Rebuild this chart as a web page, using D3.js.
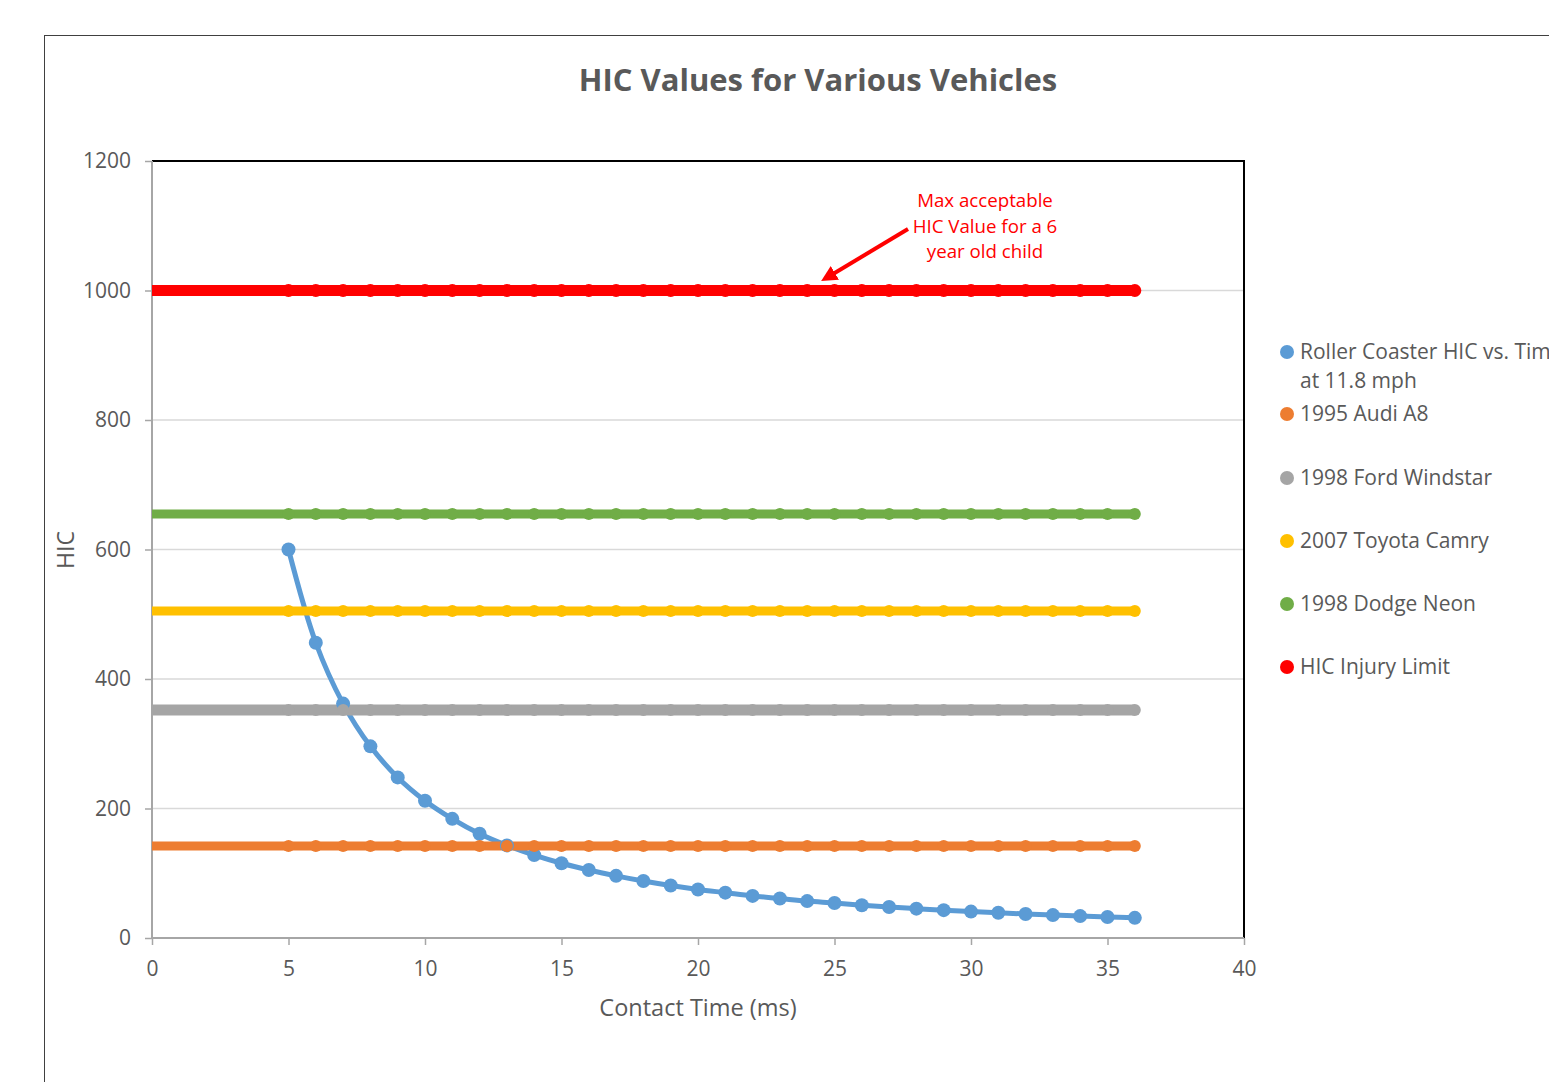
<!DOCTYPE html>
<html><head><meta charset="utf-8">
<script src="https://cdn.jsdelivr.net/npm/d3@7"></script>
<style>body{margin:0;background:#fff;overflow:hidden}svg{display:block}text{font-family:"Open Sans","Noto Sans",sans-serif;fill:#595959}</style>
</head><body><svg id="c" width="1549" height="1082"></svg>
<script>
const times = [5,6,7,8,9,10,11,12,13,14,15,16,17,18,19,20,21,22,23,24,25,26,27,28,29,30,31,32,33,34,35,36];
const rollerCoaster = [600,456,362,296,248,212,184,161,143,128,115.5,105,96,88,81,75,70,65,61,57,54,50.6,47.8,45.3,43,40.8,38.9,37.1,35.4,33.8,32.4,31.1];
const audiA8 = 142;
const fordWindstar = 352;
const toyotaCamry = 505;
const dodgeNeon = 655;
const injuryLimit = 1000;
const seriesNames = ["Roller Coaster HIC vs. Time at 11.8 mph","1995 Audi A8","1998 Ford Windstar","2007 Toyota Camry","1998 Dodge Neon","HIC Injury Limit"];
const xTicks = [0,5,10,15,20,25,30,35,40];
const yTicks = [0,200,400,600,800,1000,1200];
const annotationLines = ["Max acceptable","HIC Value for a 6","year old child"];

const svg = d3.select("#c");
svg.append("rect").attr("x",44.5).attr("y",35.5).attr("width",1600).attr("height",1100).attr("fill","none").attr("stroke","#404040").attr("stroke-width",1);

const L=152,R=1244,T=161,B=938;
const x = d3.scaleLinear().domain([0,40]).range([L,R]);
const y = d3.scaleLinear().domain([0,1200]).range([B,T]);

svg.append("g").selectAll("line").data(yTicks.filter(d=>d>0 && d<1200)).join("line")
  .attr("x1",L).attr("x2",R).attr("y1",d=>y(d)).attr("y2",d=>y(d)).attr("stroke","#d9d9d9").attr("stroke-width",1.5);
svg.append("path").attr("d",`M${L},${T}H${R}V${B}`).attr("fill","none").attr("stroke","#000").attr("stroke-width",2);

const yAxis = d3.axisLeft(y).tickValues(yTicks).tickFormat(d3.format("d")).tickSize(7).tickPadding(14);
const gy = svg.append("g").attr("transform",`translate(${L},0)`).call(yAxis);
const xAxis = d3.axisBottom(x).tickValues(xTicks).tickFormat(d3.format("d")).tickSize(7).tickPadding(16);
const gx = svg.append("g").attr("transform",`translate(0,${B})`).call(xAxis);
[gx,gy].forEach(g=>{
  g.select(".domain").attr("stroke","#a6a6a6").attr("stroke-width",2);
  g.selectAll(".tick line").attr("stroke","#a6a6a6").attr("stroke-width",1.5);
  g.selectAll(".tick text").attr("font-size",21).style("fill","#595959").attr("font-family","'Open Sans',sans-serif");
});
gx.select(".domain").attr("d",`M${L},0H${R}`);
gy.select(".domain").attr("d",`M0,${B}V${T}`);

const flat = [
  {name:seriesNames[1], v:audiA8, color:"#ed7d31", w:9, r:6},
  {name:seriesNames[2], v:fordWindstar, color:"#a5a5a5", w:11, r:6},
  {name:seriesNames[3], v:toyotaCamry, color:"#ffc000", w:9, r:6},
  {name:seriesNames[4], v:dodgeNeon, color:"#70ad47", w:9, r:6},
  {name:seriesNames[5], v:injuryLimit, color:"#ff0000", w:11, r:6.5}
];
const blue = "#5b9bd5";
const lines = svg.append("g");
const marks = svg.append("g");

lines.append("path").datum(times.map((t,i)=>[t,rollerCoaster[i]]))
  .attr("d",d3.line().x(d=>x(d[0])).y(d=>y(d[1])).curve(d3.curveCatmullRom))
  .attr("fill","none").attr("stroke",blue).attr("stroke-width",5);
marks.selectAll(".rc").data(times.map((t,i)=>[t,rollerCoaster[i]])).join("circle")
  .attr("cx",d=>x(d[0])).attr("cy",d=>y(d[1])).attr("r",7).attr("fill",blue);

flat.forEach(s=>{
  lines.append("line").attr("x1",x(0)).attr("x2",x(times[times.length-1])).attr("y1",y(s.v)).attr("y2",y(s.v))
    .attr("stroke",s.color).attr("stroke-width",s.w);
});
flat.forEach(s=>{
  marks.append("g").selectAll("circle").data(times).join("circle")
    .attr("cx",d=>x(d)).attr("cy",y(s.v)).attr("r",s.r).attr("fill",s.color);
});

svg.append("text").attr("x",818).attr("y",91).attr("text-anchor","middle").attr("font-size",31).attr("font-weight","bold").text("HIC Values for Various Vehicles");
svg.append("text").attr("x",698).attr("y",1016).attr("text-anchor","middle").attr("font-size",23.5).text("Contact Time (ms)");
svg.append("text").attr("transform","translate(74,550) rotate(-90)").attr("text-anchor","middle").attr("font-size",23).text("HIC");

const ann = svg.append("g");
annotationLines.forEach((t,i)=>{
  ann.append("text").attr("x",985).attr("y",207+i*25.5).attr("text-anchor","middle").attr("font-size",18.7).style("fill","#ff0000").text(t);
});
svg.append("defs").append("marker").attr("id","ah").attr("viewBox","0 0 10 10").attr("refX",5).attr("refY",5)
  .attr("markerWidth",4).attr("markerHeight",4).attr("orient","auto")
  .append("path").attr("d","M0,0L10,5L0,10Z").attr("fill","#ff0000");
svg.append("line").attr("x1",908).attr("y1",229).attr("x2",828).attr("y2",277).attr("stroke","#ff0000").attr("stroke-width",4).attr("marker-end","url(#ah)");

const legColors = [blue,"#ed7d31","#a5a5a5","#ffc000","#70ad47","#ff0000"];
const legY = [352,414,478,541,604,667];
const leg = svg.append("g");
seriesNames.forEach((n,i)=>{
  leg.append("circle").attr("cx",1287).attr("cy",legY[i]).attr("r",7).attr("fill",legColors[i]);
  const tx = leg.append("text").attr("x",1300).attr("y",legY[i]+7).attr("font-size",21);
  if(i===0){
    tx.text("Roller Coaster HIC vs. Time");
    leg.append("text").attr("x",1300).attr("y",legY[i]+36).attr("font-size",21).text("at 11.8 mph");
  } else tx.text(n);
});
</script></body></html>
